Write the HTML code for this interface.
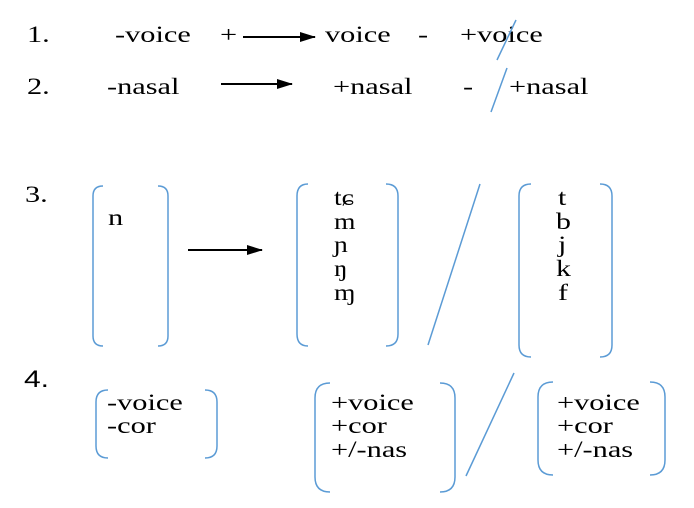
<!DOCTYPE html>
<html><head><meta charset="utf-8"><style>body{margin:0;background:#fff}svg{display:block}text{font-family:"Liberation Serif",serif;font-size:23px;fill:#000}</style></head><body>
<svg width="694" height="508" viewBox="0 0 694 508">
<defs><marker id="a" markerWidth="16" markerHeight="10" refX="15" refY="5" orient="auto" markerUnits="userSpaceOnUse"><path d="M0,0L16,5L0,10z" fill="#000"/></marker></defs>
<g fill="none" stroke="#000" stroke-width="2">
<line x1="243" y1="37" x2="315" y2="37" marker-end="url(#a)"/>
<line x1="221" y1="84" x2="292" y2="84" marker-end="url(#a)"/>
<line x1="188" y1="250" x2="262" y2="250" marker-end="url(#a)"/>
</g>
<g transform="translate(27,42) scale(1.32,1)"><text>1.</text></g>
<g transform="translate(115,42) scale(1.32,1)"><text>-voice</text></g>
<g transform="translate(220,42) scale(1.32,1)"><text>+</text></g>
<g transform="translate(325,42) scale(1.32,1)"><text>voice</text></g>
<g transform="translate(418,42) scale(1.32,1)"><text>-</text></g>
<g transform="translate(460,42) scale(1.32,1)"><text>+voice</text></g>
<g transform="translate(27,94) scale(1.32,1)"><text>2.</text></g>
<g transform="translate(107,94) scale(1.32,1)"><text>-nasal</text></g>
<g transform="translate(333,94) scale(1.32,1)"><text>+nasal</text></g>
<g transform="translate(463,94) scale(1.32,1)"><text>-</text></g>
<g transform="translate(509,94) scale(1.32,1)"><text>+nasal</text></g>
<g transform="translate(25,202) scale(1.32,1)"><text>3.</text></g>
<g transform="translate(108,225) scale(1.32,1)"><text>n</text></g>
<g transform="translate(334,205) scale(1.2,1)"><text>tɕ</text></g>
<g transform="translate(334,229) scale(1.2,1)"><text>m</text></g>
<g transform="translate(334,252) scale(1.2,1)"><text>ɲ</text></g>
<g transform="translate(334,276) scale(1.2,1)"><text>ŋ</text></g>
<g transform="translate(334,300) scale(1.2,1)"><text>ɱ</text></g>
<g transform="translate(558,205) scale(1.3,1)"><text>t</text></g>
<g transform="translate(556,229) scale(1.3,1)"><text>b</text></g>
<g transform="translate(558,252) scale(1.3,1)"><text>j</text></g>
<g transform="translate(556,276) scale(1.3,1)"><text>k</text></g>
<g transform="translate(558,300) scale(1.3,1)"><text>f</text></g>
<g transform="translate(24,387) scale(1.25,1)"><text style="font-family:'Liberation Sans',sans-serif;font-size:24px">4.</text></g>
<g transform="translate(107,410) scale(1.32,1)"><text>-voice</text></g>
<g transform="translate(107,433) scale(1.32,1)"><text>-cor</text></g>
<g transform="translate(331,410) scale(1.32,1)"><text>+voice</text></g>
<g transform="translate(331,433) scale(1.32,1)"><text>+cor</text></g>
<g transform="translate(331,457) scale(1.32,1)"><text>+/-nas</text></g>
<g transform="translate(557,410) scale(1.32,1)"><text>+voice</text></g>
<g transform="translate(557,433) scale(1.32,1)"><text>+cor</text></g>
<g transform="translate(557,457) scale(1.32,1)"><text>+/-nas</text></g>
<g fill="none" stroke="#5b9bd5" stroke-width="1.5">
<line x1="497" y1="60" x2="516" y2="20"/><line x1="491" y1="112" x2="507" y2="68"/>
<line x1="428" y1="345" x2="480" y2="184"/><line x1="466" y1="476" x2="514" y2="373"/>
<path d="M103,186Q93,186 93,196L93,336Q93,346 103,346"/><path d="M158,186Q168,186 168,196L168,336Q168,346 158,346"/>
<path d="M308,184Q297,184 297,196L297,334Q297,346 308,346"/><path d="M386,184Q398,184 398,196L398,334Q398,346 386,346"/>
<path d="M531,184Q519,184 519,196L519,345Q519,357 531,357"/><path d="M600,184Q612,184 612,196L612,345Q612,357 600,357"/>
<path d="M108,390Q96,390 96,402L96,446Q96,458 108,458"/><path d="M205,390Q217,390 217,402L217,446Q217,458 205,458"/>
<path d="M330,383Q315,383 315,398L315,477Q315,492 330,492"/><path d="M440,383Q455,383 455,398L455,477Q455,492 440,492"/>
<path d="M553,382Q538,382 538,397L538,460Q538,475 553,475"/><path d="M650,382Q665,382 665,397L665,460Q665,475 650,475"/>
</g>
</svg>
</body></html>
